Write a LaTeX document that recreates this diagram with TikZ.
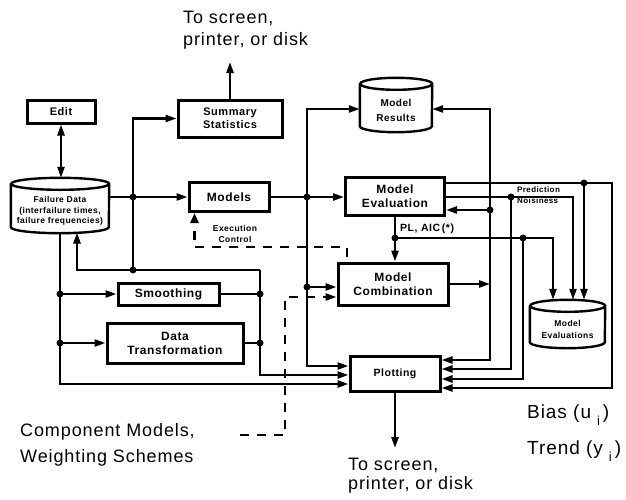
\documentclass[tikz,border=0pt]{standalone}
\usepackage{fontspec}
\setmainfont{Liberation Sans}[LetterSpace=5]
\usetikzlibrary{positioning, arrows.meta, calc}

\newcommand{\bsz}[2]{\bfseries\fontsize{#1}{#2}\selectfont}
\newcommand{\rsz}[2]{\fontsize{#1}{#2}\selectfont}
% outline of a disk store round node #1 (half width #2, end radius #3)
\newcommand{\drum}[3]{%
  \draw[wire] ([yshift=-#3pt]#1.north west) -- ([yshift=#3pt]#1.south west)
    arc[start angle=180, end angle=360, x radius=#2pt, y radius=#3pt]
    -- ([yshift=-#3pt]#1.north east)
    arc[start angle=0, end angle=180, x radius=#2pt, y radius=#3pt]
    arc[start angle=180, end angle=360, x radius=#2pt, y radius=#3pt];}

\tikzset{
  wire/.style={line width=2.4pt},
  arr/.style={wire, -{Triangle[length=11pt, width=7pt]}},
  arrs/.style={wire, {Triangle[length=11pt, width=7pt]}-{Triangle[length=11pt, width=7pt]}},
  ctrl/.style={line width=2.4pt, dash pattern=on 9pt off 8pt},
  box/.style={draw, line width=3pt, align=center, inner sep=0pt},
  drumtext/.style={inner sep=0pt, align=center},
  big/.style={align=left, inner sep=0pt}
}

\begin{document}
\begin{tikzpicture}[x=1pt, y=1pt]
\useasboundingbox (0,0) rectangle (626,-499);

\node[box, minimum width=68pt, minimum height=23pt, font=\bsz{11}{13}] (edit) at (61,-111.5) {Edit};
\node[box, minimum width=104pt, minimum height=37pt, font=\bsz{11}{13}] (summ) at (230,-118.5) {Summary\\Statistics};
\node[box, minimum width=80pt, minimum height=29pt, font=\bsz{12}{14}] (models) at (229,-197) {Models};
\node[box, minimum width=99pt, minimum height=38pt, font=\bsz{12}{14}] (meval) at (395,-196) {Model\\Evaluation};
\node[box, minimum width=110pt, minimum height=42pt, font=\bsz{12}{14}] (mcomb) at (393,-284) {Model\\Combination};
\node[box, minimum width=101pt, minimum height=22pt, font=\bsz{12}{14}] (smooth) at (168.5,-294) {Smoothing};
\node[box, minimum width=136pt, minimum height=40pt, font=\bsz{12}{14}] (dtrans) at (175,-343) {Data\\Transformation};
\node[box, minimum width=90pt, minimum height=35pt, font=\bsz{10.5}{12}] (plot) at (395,-373.5) {Plotting};

\node[drumtext, minimum width=98pt, minimum height=55pt, font=\bsz{8.5}{10.5}] (fdata) at (60,-205.5)
  {\raisebox{-7.5pt}[0pt][0pt]{\begin{tabular}{@{}c@{}}Failure Data\\(interfailure times,\\failure frequencies)\end{tabular}}};
\node[drumtext, minimum width=72pt, minimum height=54pt, font=\bsz{10}{15}] (mres) at (396,-105)
  {\raisebox{-8pt}[0pt][0pt]{\begin{tabular}{@{}c@{}}Model\\Results\end{tabular}}};
\node[drumtext, minimum width=75pt, minimum height=48pt, font=\bsz{8.5}{12}] (medb) at (567.5,-324)
  {\raisebox{-8pt}[0pt][0pt]{\begin{tabular}{@{}c@{}}Model\\Evaluations\end{tabular}}};
\drum{fdata}{49}{6}
\drum{mres}{36}{6}
\drum{medb}{37.5}{6}

\node[big, anchor=north west, font=\rsz{18}{22}] (outtop) at (183,-11) {To screen,\\printer, or disk};
\node[big, anchor=north west, font=\rsz{18}{19}] (outbot) at (348,-458) {To screen,\\printer, or disk};
\node[big, anchor=north west, font=\rsz{18}{26}] (comp) at (20,-423) {Component Models,\\Weighting Schemes};
\node[big, anchor=north west, font=\rsz{19}{22}] (bias) at (527,-405) {Bias (u\kern6pt\raisebox{-7pt}{\rsz{13}{13}i}\kern3pt)};
\node[big, anchor=north west, font=\rsz{19}{22}] (trend) at (527,-441) {Trend (y\kern6pt\raisebox{-7pt}{\rsz{13}{13}i}\kern3pt)};
\node[align=center, inner sep=0pt, font=\bsz{8.5}{11}] (exec) at (235,-234) {Execution\\Control};
\node[anchor=west, inner sep=0pt, font=\bsz{10.5}{12}] (plaic) at (400,-229) {PL, AIC\,(*)};
\node[anchor=north west, align=left, inner sep=0pt, font=\bsz{8}{11}] (pnoise) at (517,-186) {Prediction\\Noisiness};

\coordinate (j1) at (133,-197);
\coordinate (j2) at (133,-270);
\coordinate (j3) at (307,-197);
\coordinate (j4) at (307,-287);
\coordinate (j5) at (60,-294);
\coordinate (j6) at (60,-343);
\coordinate (j7) at (260,-294);
\coordinate (j8) at (260,-343);
\coordinate (j10) at (584,-183);
\coordinate (j11) at (511,-197);
\coordinate (j12) at (395,-238);
\coordinate (j13) at (523,-238);
\coordinate (j14) at (490,-210);
\coordinate (loopc) at (260,-270);
\coordinate (fdret) at (77,-232.5);
\coordinate (rb) at (612,-388);
\coordinate (outup) at (230,-62);
\coordinate (outdown) at (395,-448);
\coordinate (exc) at (347,-257);
\coordinate (cmst) at (240,-435);
\coordinate (cmturn) at (285,-297);

\draw[arrs] (edit.south) -- (edit.south |- fdata.north);
\draw[arr] (fdata.east |- models.west) -- (models.west);
\draw[arr] (j2) |- (summ.west);
\draw[arr] (summ.north) -- (outup);
\draw[arr] (models.east) -- (models.east -| meval.west);
\draw[arr] (j4) |- ([yshift=-4pt]mres.west);
\draw[arr] (j4) -- (j4 -| mcomb.west);
\draw[arr] (j4) |- (plot.west |- 0,-366);

\draw[arr] (fdata.south) |- (plot.west |- 0,-384);
\draw[arr] (j5) -- (smooth.west);
\draw[arr] (j6) -- (dtrans.west);
\draw[wire] (smooth.east) -- (j7);
\draw[wire] (dtrans.east) -- (j8);
\draw[arr] (loopc) -| (fdret);
\draw[arr] (loopc) |- (plot.west |- 0,-375);

\draw[arr] (meval.east |- 0,-183) -| (rb) -- (rb -| plot.east);
\draw[arr] (j10) -- (j10 |- medb.north);
\draw[arr] (meval.east |- j11) -| ([xshift=5.5pt]medb.north);
\draw[arr] (j11) |- (plot.east |- 0,-369);
\draw[arr] (j12 |- meval.south) -- (j12 |- mcomb.north);
\draw[arr] (j12) -| ([xshift=-14.5pt]medb.north);
\draw[arr] (j13) |- (plot.east |- 0,-379);
\draw[arr] (j14) |- ([yshift=-4pt]mres.east);
\draw[arr] (j14) |- (plot.east |- 0,-360);
\draw[arr] (j14) -- (j14 -| meval.east);
\draw[arr] (mcomb.east) -- (mcomb.east -| j14);
\draw[arr] (plot.south) -- (outdown);

\draw[ctrl, -{Triangle[length=10pt, width=8pt]}] (exc) -- (exc |- 0,-247) -| ([xshift=7pt]models.south west);
\draw[ctrl, -{Triangle[length=11pt, width=7pt]}] (cmst) -| (cmturn) -- (mcomb.west |- cmturn);

\foreach \j in {j1,j2,j3,j4,j5,j6,j7,j8,j10,j11,j12,j13,j14}
  \fill (\j) circle (3.5pt);
\end{tikzpicture}
\end{document}
